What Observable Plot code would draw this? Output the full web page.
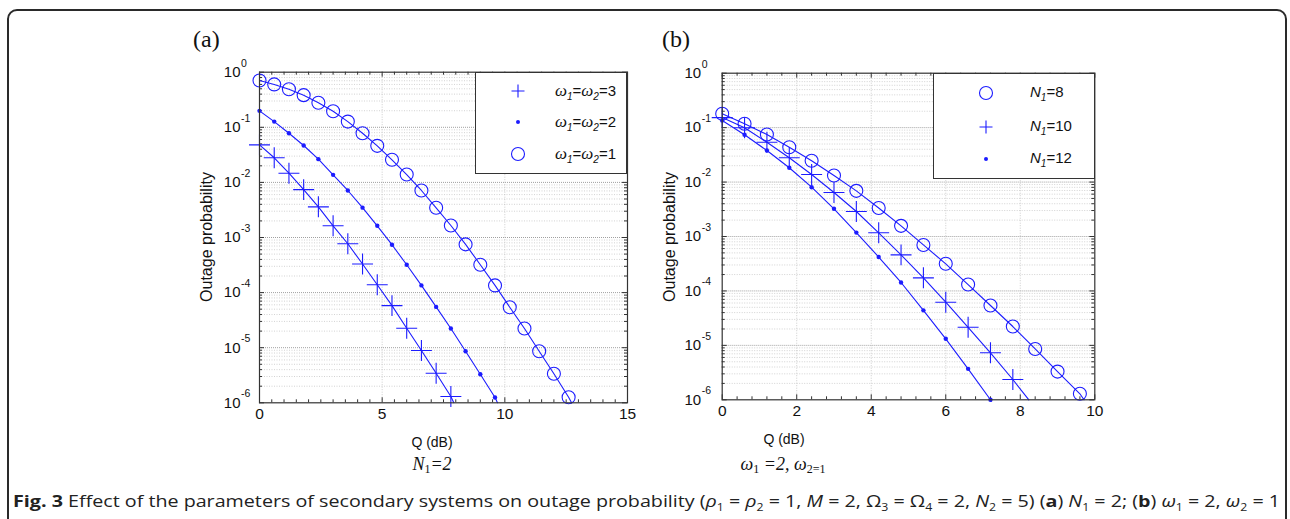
<!DOCTYPE html>
<html>
<head>
<meta charset="utf-8">
<script src="https://cdn.jsdelivr.net/npm/d3@7"></script>
<script src="https://cdn.jsdelivr.net/npm/@observablehq/plot@0.6"></script>
<style>
  html, body { margin: 0; padding: 0; background: #fff; }
  body { width: 1290px; height: 519px; position: relative; overflow: hidden; font-family: "Liberation Sans", Arial, sans-serif; }
  .abs { position: absolute; }
  .border { left: 7px; top: 9px; width: 1280px; height: 620px; border: 2px solid #2a2a2a; border-radius: 10px; box-sizing: border-box; }
  .plab { font-family: "Liberation Serif", "Times New Roman", serif; font-size: 24px; color: #111; }
  .xlab { font-size: 14px; color: #111; transform: translateX(-50%); white-space: nowrap; }
  .cond { font-family: "Liberation Serif", "Times New Roman", serif; font-style: italic; font-size: 18px; color: #111; transform: translateX(-50%); white-space: nowrap; }
  .cond sub { font-size: 12px; font-style: normal; vertical-align: -3px; line-height: 0; }
  .legend { border: 1px solid #333; background: #fff; box-sizing: border-box; }
  .ltxt { font-size: 15px; color: #111; white-space: nowrap; line-height: 1; }
  .ltxt .w { font-family: "Liberation Serif", serif; font-style: italic; font-size: 17px; }
  .ltxt .n { font-style: italic; }
  .ltxt sub { font-size: 10px; font-style: italic; vertical-align: -4px; line-height: 0; }
  .caption { left: 13px; top: 490px; font-family: "Liberation Sans Narrow", "Open Sans", "Liberation Sans", sans-serif; font-size: 16px; color: #222; white-space: nowrap; transform-origin: 0 0; }
  .caption b { font-weight: 700; }
</style>
</head>
<body>
<div class="abs border"></div>
<script>
// ---------- Data ----------
// Panel (a): N1 = 2, outage probability vs Q (dB)
const qA_w3 = [0, 0.6, 1.2, 1.8, 2.4, 3.0, 3.6, 4.2, 4.8, 5.4, 6.0, 6.6, 7.2, 7.8];
const pA_w3 = [0.048, 0.028, 0.0147, 0.0074, 0.0036, 0.00163, 7.7e-4, 3.3e-4, 1.39e-4, 5.8e-5, 2.26e-5, 8.9e-6, 3.44e-6, 1.3e-6];
const qA_w2 = [0, 0.6, 1.2, 1.8, 2.4, 3.0, 3.6, 4.2, 4.8, 5.4, 6.0, 6.6, 7.2, 7.8, 8.4, 9.0, 9.6];
const pA_w2 = [0.199, 0.127, 0.078, 0.0467, 0.0264, 0.0137, 0.00713, 0.00348, 0.00163, 7.4e-4, 3.2e-4, 1.35e-4, 5.5e-5, 2.23e-5, 8.6e-6, 3.3e-6, 1.25e-6];
const qA_w1 = [0, 0.6, 1.2, 1.8, 2.4, 3.0, 3.6, 4.2, 4.8, 5.4, 6.0, 6.6, 7.2, 7.8, 8.4, 9.0, 9.6, 10.2, 10.8, 11.4, 12.0, 12.6];
const pA_w1 = [0.707, 0.60, 0.491, 0.383, 0.279, 0.196, 0.127, 0.078, 0.0461, 0.0257, 0.0139, 0.00713, 0.00346, 0.00165, 7.5e-4, 3.2e-4, 1.35e-4, 5.43e-5, 2.23e-5, 8.6e-6, 3.36e-6, 1.26e-6];
// where each analytic curve leaves the bottom of the frame
const endA_q = [7.92, 9.7, 12.72];
const endA_p = [1e-6, 1e-6, 1e-6];
const labelsA = ["ω1=ω2=3", "ω1=ω2=2", "ω1=ω2=1"];

// Panel (b): ω1 = 2, ω2 = 1
const qB_8 = [0, 0.6, 1.2, 1.8, 2.4, 3.0, 3.6, 4.2, 4.8, 5.4, 6.0, 6.6, 7.2, 7.8, 8.4, 9.0, 9.6];
const pB_8 = [0.1795, 0.1175, 0.0748, 0.0437, 0.0246, 0.0132, 0.0069, 0.00334, 0.00157, 7.0e-4, 3.15e-4, 1.31e-4, 5.4e-5, 2.22e-5, 8.6e-6, 3.3e-6, 1.29e-6];
const qB_10 = [0, 0.6, 1.2, 1.8, 2.4, 3.0, 3.6, 4.2, 4.8, 5.4, 6.0, 6.6, 7.2, 7.8];
const pB_10 = [0.153, 0.0993, 0.054, 0.0279, 0.01377, 0.00643, 0.00288, 0.00117, 4.6e-4, 1.74e-4, 6.2e-5, 2.15e-5, 7.3e-6, 2.36e-6];
const qB_12 = [0, 0.6, 1.2, 1.8, 2.4, 3.0, 3.6, 4.2, 4.8, 5.4, 6.0, 6.6, 7.2];
const pB_12 = [0.135, 0.0738, 0.038, 0.0183, 0.00805, 0.00323, 0.00118, 4.2e-4, 1.43e-4, 4.4e-5, 1.32e-5, 3.7e-6, 1.0e-6];
const endB_q = [9.71, 8.23, 7.22];
const endB_p = [1e-6, 1e-6, 9.3e-7];
const labelsB = ["N1=8", "N1=10", "N1=12"];

// Axis ticks
const yTickVals = [1, 1e-1, 1e-2, 1e-3, 1e-4, 1e-5, 1e-6];
const yTickExp = ["0", "-1", "-2", "-3", "-4", "-5", "-6"];
const xTicksA = [0, 5, 10, 15];
const xTicksB = [0, 2, 4, 6, 8, 10];

// ---------- Rendering ----------
const BLUE = "#1c1cff";
const yMinor = [];
for (let e = -6; e < 0; e++) for (let m = 2; m <= 9; m++) yMinor.push(m * Math.pow(10, e));

function series(q, p, eq, ep) {
  const pts = q.map((v, i) => ({q: v, p: p[i]}));
  return {pts, line: pts.concat([{q: eq, p: ep}])};
}

function panel(cfg) {
  const fw = cfg.width - cfg.ml - cfg.mr;
  const fh = cfg.height - cfg.mt - cfg.mb;
  const marks = [];
  // grid
  marks.push(Plot.ruleY(yMinor, {y: d => d, stroke: "#c8c8c8", strokeWidth: 0.8, strokeDasharray: "1,1.5"}));
  marks.push(Plot.ruleY(yTickVals.slice(1, -1), {y: d => d, stroke: "#a0a0a0", strokeWidth: 1, strokeDasharray: "1,1"}));
  marks.push(Plot.ruleX(cfg.xTicks.slice(1, -1), {x: d => d, stroke: "#c0c0c0", strokeWidth: 0.8, strokeDasharray: "1,1.5"}));
  // ticks (inside, on all four sides)
  const tk = "#333";
  marks.push(Plot.tickX(cfg.xTicks, {x: d => d, insetTop: fh - 5, stroke: tk}));
  marks.push(Plot.tickX(cfg.xTicks, {x: d => d, insetBottom: fh - 5, stroke: tk}));
  marks.push(Plot.tickX(cfg.xMinor, {x: d => d, insetTop: fh - 3, stroke: tk}));
  marks.push(Plot.tickX(cfg.xMinor, {x: d => d, insetBottom: fh - 3, stroke: tk}));
  marks.push(Plot.tickY(yTickVals, {y: d => d, insetRight: fw - 5, stroke: tk}));
  marks.push(Plot.tickY(yTickVals, {y: d => d, insetLeft: fw - 5, stroke: tk}));
  marks.push(Plot.tickY(yMinor, {y: d => d, insetRight: fw - 3, stroke: tk}));
  marks.push(Plot.tickY(yMinor, {y: d => d, insetLeft: fw - 3, stroke: tk}));
  // curves and markers
  cfg.series.forEach(s => {
    marks.push(Plot.line(s.line, {x: "q", y: "p", stroke: BLUE, strokeWidth: 1.1}));
    if (s.symbol === "circle") marks.push(Plot.dot(s.pts, {x: "q", y: "p", r: 6.5, stroke: BLUE, strokeWidth: 1.1, fill: "none"}));
    else if (s.symbol === "plus") marks.push(Plot.dot(s.pts, {x: "q", y: "p", r: 6.8, symbol: "plus", stroke: BLUE, strokeWidth: 1.1}));
    else marks.push(Plot.dot(s.pts, {x: "q", y: "p", r: 2.2, fill: BLUE, stroke: "none"}));
  });
  marks.push(Plot.frame({stroke: "#333", strokeWidth: 1.2}));
  // tick labels
  marks.push(Plot.text(cfg.xTicks, {x: d => d, frameAnchor: "bottom", dy: 16, text: d => String(d), fontSize: 15.5, fill: "#111"}));
  marks.push(Plot.text(yTickVals, {y: d => d, frameAnchor: "left", dx: cfg.ydx, text: () => "10", textAnchor: "end", fontSize: 15, fill: "#111"}));
  marks.push(Plot.text(yTickVals.map((v, i) => ({v, e: yTickExp[i]})), {y: "v", text: "e", frameAnchor: "left", dx: cfg.ydx + 0.5, dy: -9, textAnchor: "start", fontSize: 10.5, fill: "#111"}));
  return Plot.plot({
    width: cfg.width, height: cfg.height,
    marginLeft: cfg.ml, marginRight: cfg.mr, marginTop: cfg.mt, marginBottom: cfg.mb,
    x: {domain: cfg.xDomain, axis: null},
    y: {type: "log", domain: [1e-6, 1], axis: null},
    style: {fontFamily: "Liberation Sans, Arial, sans-serif", background: "transparent", overflow: "visible"},
    marks
  });
}

const serA = [
  Object.assign(series(qA_w3, pA_w3, endA_q[0], endA_p[0]), {symbol: "plus"}),
  Object.assign(series(qA_w2, pA_w2, endA_q[1], endA_p[1]), {symbol: "dot"}),
  Object.assign(series(qA_w1, pA_w1, endA_q[2], endA_p[2]), {symbol: "circle"})
];
const serB = [
  Object.assign(series(qB_8, pB_8, endB_q[0], endB_p[0]), {symbol: "circle"}),
  Object.assign(series(qB_10, pB_10, endB_q[1], endB_p[1]), {symbol: "plus"}),
  Object.assign(series(qB_12, pB_12, endB_q[2], endB_p[2]), {symbol: "dot"})
];

const xMinorA = []; for (let i = 0; i <= 30; i++) if (i % 10) xMinorA.push(i * 0.5);
const xMinorB = []; for (let i = 0; i <= 25; i++) if (i % 5) xMinorB.push(i * 0.4);

const pa = panel({width: 460, height: 380, ml: 79, mr: 13, mt: 11.7, mb: 37.7, xDomain: [0, 15], xTicks: xTicksA, xMinor: xMinorA, ydx: -19, series: serA});
const pb = panel({width: 470, height: 380, ml: 81.7, mr: 15.7, mt: 12.7, mb: 40.7, xDomain: [0, 10], xTicks: xTicksB, xMinor: xMinorB, ydx: -21, series: serB});
[[pa, 180, 60], [pb, 640, 60]].forEach(([svg, l, t]) => {
  svg.style.position = "absolute"; svg.style.left = l + "px"; svg.style.top = t + "px";
  document.body.appendChild(svg);
});

// ---------- HTML annotations ----------
function add(html, cls, css) {
  const d = document.createElement("div");
  d.className = "abs " + cls; d.innerHTML = html;
  Object.assign(d.style, css);
  document.body.appendChild(d);
  return d;
}
add("(a)", "plab", {left: "193px", top: "26px"});
add("(b)", "plab", {left: "662px", top: "26px"});
add("Outage probability", "xlab", {left: "207px", top: "237px", transform: "translate(-50%,-50%) rotate(-90deg)", fontSize: "16px"});
add("Outage probability", "xlab", {left: "670px", top: "237px", transform: "translate(-50%,-50%) rotate(-90deg)", fontSize: "16px"});
add("Q (dB)", "xlab", {left: "432px", top: "434px"});
add("Q (dB)", "xlab", {left: "784px", top: "431px"});
add("N<sub>1</sub>=2", "cond", {left: "432px", top: "454px"});
add("ω<sub>1</sub> =2, ω<sub>2=1</sub>", "cond", {left: "783px", top: "454px"});

function symSvg(kind) {
  let inner;
  if (kind === "circle") inner = `<circle cx="8" cy="8" r="6.5" fill="none" stroke="${BLUE}" stroke-width="1.1"/>`;
  else if (kind === "plus") inner = `<path d="M1.5,8H14.5M8,1.5V14.5" stroke="${BLUE}" stroke-width="1.1"/>`;
  else inner = `<circle cx="8" cy="8" r="2" fill="${BLUE}"/>`;
  return `<svg width="16" height="16" style="display:block">${inner}</svg>`;
}
function legend(box, items) {
  add("", "legend", {left: box.l + "px", top: box.t + "px", width: box.w + "px", height: box.h + "px"});
  items.forEach(it => {
    add(symSvg(it.sym), "", {left: (box.mx - 8) + "px", top: (it.y - 8) + "px"});
    add(it.html, "ltxt", {left: box.tx + "px", top: (it.y - 9) + "px"});
  });
}
const omegaHtml = s => {
  const m = s.match(/ω1=ω2=(\d)/);
  return `<span class="w">ω</span><sub>1</sub>=<span class="w">ω</span><sub>2</sub>=${m[1]}`;
};
const nHtml = s => `<span class="n">N</span><sub>1</sub>=${s.split("=")[1]}`;
legend({l: 475, t: 72, w: 152, h: 102, mx: 518, tx: 555}, [
  {sym: "plus", y: 91, html: omegaHtml(labelsA[0])},
  {sym: "dot", y: 122, html: omegaHtml(labelsA[1])},
  {sym: "circle", y: 154, html: omegaHtml(labelsA[2])}
]);
legend({l: 933, t: 73, w: 162, h: 106, mx: 986, tx: 1030}, [
  {sym: "circle", y: 93, html: nHtml(labelsB[0])},
  {sym: "plus", y: 127, html: nHtml(labelsB[1])},
  {sym: "dot", y: 159, html: nHtml(labelsB[2])}
]);

const cap = add("<b>Fig. 3</b> Effect of the parameters of secondary systems on outage probability (<i>ρ</i><sub>1</sub> = <i>ρ</i><sub>2</sub> = 1, <i>M</i> = 2, Ω<sub>3</sub> = Ω<sub>4</sub> = 2, <i>N</i><sub>2</sub> = 5) (<b>a</b>) <i>N</i><sub>1</sub> = 2; (<b>b</b>) <i>ω</i><sub>1</sub> = 2, <i>ω</i><sub>2</sub> = 1", "caption", {});
cap.querySelectorAll("sub").forEach(s => { s.style.fontSize = "10px"; s.style.lineHeight = "0"; });
const cw = cap.getBoundingClientRect().width;
cap.style.transform = `scaleX(${1267 / cw})`;
</script>
</body>
</html>
